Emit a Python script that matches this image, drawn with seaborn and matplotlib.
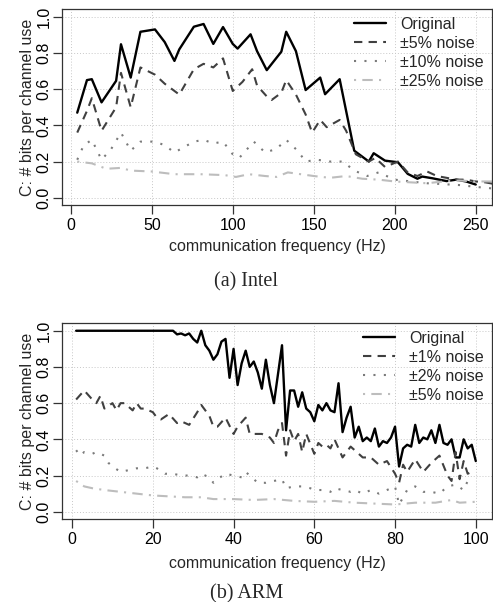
import numpy as np
import pandas as pd
import seaborn as sns
import matplotlib
matplotlib.use('Agg')
import matplotlib.pyplot as plt

# Intel
intel_x_orig = [4, 10, 13, 19, 28, 31, 37, 43, 52, 58, 64, 67, 76, 82, 88, 94, 100, 103, 111, 115,
                121, 130, 133, 139, 145, 154, 157, 166, 175, 184, 187, 194, 202, 208, 214, 217, 223,
                232, 238, 244, 250]
intel_y_orig = [0.47, 0.65, 0.655, 0.527, 0.646, 0.848, 0.664, 0.917, 0.93, 0.86, 0.756, 0.82, 0.945,
                0.96, 0.85, 0.943, 0.85, 0.824, 0.903, 0.81, 0.705, 0.807, 0.917, 0.81, 0.595, 0.664,
                0.572, 0.655, 0.26, 0.2, 0.246, 0.205, 0.196, 0.132, 0.105, 0.117, 0.108, 0.092, 0.1,
                0.09, 0.073]
intel_x_5 = [4, 10, 13, 19, 28, 31, 37, 43, 52, 58, 64, 67, 76, 82, 88, 94, 100, 106, 112, 115, 121,
             124, 130, 133, 139, 145, 149, 154, 158, 166, 170, 176, 184, 188, 194, 202, 208, 214, 220,
             226, 232, 238, 244, 250, 256, 262]
intel_y_5 = [0.36, 0.48, 0.55, 0.37, 0.5, 0.69, 0.5, 0.72, 0.68, 0.63, 0.59, 0.57, 0.71, 0.74, 0.72,
             0.77, 0.59, 0.64, 0.71, 0.62, 0.56, 0.54, 0.58, 0.65, 0.57, 0.46, 0.36, 0.43, 0.39, 0.43,
             0.37, 0.24, 0.2, 0.22, 0.17, 0.2, 0.14, 0.12, 0.145, 0.12, 0.11, 0.1, 0.1, 0.09, 0.085, 0.075]
intel_x_10 = [4, 8, 13, 19, 25, 31, 37, 43, 52, 58, 64, 70, 76, 82, 88, 94, 100, 104, 110, 113, 120,
              127, 133, 140, 145, 152, 160, 168, 175, 183, 190, 200, 210, 220, 230, 240, 250, 262]
intel_y_10 = [0.21, 0.29, 0.32, 0.21, 0.27, 0.36, 0.26, 0.31, 0.31, 0.29, 0.25, 0.28, 0.31, 0.32, 0.3,
              0.31, 0.24, 0.22, 0.28, 0.31, 0.25, 0.27, 0.32, 0.26, 0.2, 0.21, 0.2, 0.2, 0.15, 0.12,
              0.14, 0.1, 0.09, 0.08, 0.075, 0.07, 0.06, 0.05]
intel_x_25 = [4, 13, 22, 31, 37, 50, 64, 80, 95, 102, 110, 120, 127, 134, 142, 150, 160, 170, 180,
              190, 200, 210, 220, 230, 240, 250, 262]
intel_y_25 = [0.2, 0.19, 0.16, 0.165, 0.15, 0.145, 0.13, 0.13, 0.125, 0.115, 0.13, 0.12, 0.115, 0.14,
              0.13, 0.12, 0.11, 0.12, 0.105, 0.1, 0.09, 0.085, 0.08, 0.09, 0.095, 0.09, 0.09]

# ARM
arm_x_orig = list(range(1, 101))
arm_y_orig = [1.0] * 25 + [
    0.98, 0.985, 0.975, 0.985, 0.955, 0.935, 1.0, 0.92, 0.89, 0.84, 0.87, 0.94, 0.955, 0.74, 0.9,
    0.7, 0.82, 0.89, 0.8, 0.83, 0.77, 0.68, 0.84, 0.7, 0.6, 0.76, 0.92, 0.45, 0.67, 0.67, 0.58, 0.66,
    0.57, 0.55, 0.5, 0.59, 0.56, 0.6, 0.56, 0.55, 0.71, 0.44, 0.52, 0.58, 0.41, 0.47, 0.39, 0.41,
    0.39, 0.46, 0.36, 0.39, 0.38, 0.41, 0.47, 0.25, 0.35, 0.37, 0.36, 0.48, 0.38, 0.41, 0.4, 0.45,
    0.38, 0.48, 0.38, 0.37, 0.4, 0.3, 0.3, 0.4, 0.35, 0.37, 0.28]
arm_x_1 = [1, 3, 5, 6, 7, 8, 10, 11, 12, 13, 15, 16, 17, 18, 20, 21, 22, 24, 26, 27, 29, 31, 32, 34,
           35, 36, 38, 40, 41, 43, 44, 46, 47, 49, 50, 51, 52, 53, 54, 55, 56, 57, 58, 60, 61, 62, 63,
           64, 65, 67, 69, 70, 72, 74, 76, 78, 80, 81, 82, 83, 85, 87, 89, 91, 93, 94, 95, 96, 97, 98, 99]
arm_y_1 = [0.62, 0.67, 0.62, 0.6, 0.64, 0.57, 0.6, 0.56, 0.6, 0.6, 0.56, 0.6, 0.57, 0.57, 0.55, 0.52,
           0.51, 0.54, 0.49, 0.5, 0.48, 0.55, 0.59, 0.53, 0.47, 0.47, 0.52, 0.43, 0.47, 0.52, 0.43,
           0.43, 0.43, 0.41, 0.38, 0.45, 0.49, 0.31, 0.45, 0.39, 0.43, 0.33, 0.43, 0.32, 0.38, 0.36,
           0.37, 0.35, 0.4, 0.3, 0.36, 0.34, 0.3, 0.3, 0.26, 0.28, 0.21, 0.16, 0.26, 0.22, 0.29, 0.22,
           0.27, 0.31, 0.2, 0.17, 0.33, 0.18, 0.28, 0.21, 0.22]
arm_x_2 = [1, 2, 3, 5, 6, 7, 8, 9, 10, 12, 14, 16, 18, 20, 21, 23, 25, 27, 29, 31, 32, 34, 35, 36, 38,
           40, 42, 43, 45, 46, 48, 50, 52, 53, 55, 57, 59, 60, 62, 64, 65, 67, 69, 70, 72, 74, 76, 78,
           80, 81, 83, 85, 87, 89, 91, 93, 95, 97, 98, 99]
arm_y_2 = [0.34, 0.31, 0.33, 0.32, 0.33, 0.32, 0.31, 0.27, 0.25, 0.22, 0.23, 0.24, 0.24, 0.25, 0.24,
           0.21, 0.21, 0.2, 0.2, 0.19, 0.21, 0.19, 0.16, 0.18, 0.21, 0.2, 0.19, 0.22, 0.18, 0.16, 0.16,
           0.17, 0.18, 0.13, 0.14, 0.14, 0.13, 0.12, 0.12, 0.11, 0.13, 0.12, 0.11, 0.12, 0.1, 0.12,
           0.1, 0.12, 0.14, 0.04, 0.12, 0.14, 0.11, 0.11, 0.1, 0.14, 0.15, 0.12, 0.17, 0.15]
arm_x_5 = [1, 3, 5, 8, 12, 16, 20, 24, 28, 32, 35, 40, 45, 50, 55, 60, 65, 70, 75, 80, 85, 90, 94, 96, 100]
arm_y_5 = [0.17, 0.14, 0.13, 0.12, 0.11, 0.1, 0.09, 0.085, 0.08, 0.08, 0.07, 0.07, 0.065, 0.07, 0.06,
           0.055, 0.06, 0.05, 0.045, 0.04, 0.05, 0.05, 0.065, 0.05, 0.055]

intel_labels = ['Original', '±5% noise', '±10% noise', '±25% noise']
arm_labels = ['Original', '±1% noise', '±2% noise', '±5% noise']

colors = ['black', '#404040', '#7a7a7a', '#bdbdbd']
styles = ['-', (0, (4, 3)), (0, (1, 4)), (0, (1, 3, 5, 3))]
widths = [1.7, 1.5, 1.5, 1.5]

sns.set_style('ticks')
plt.rcParams['font.family'] = ['Liberation Sans', 'DejaVu Sans']
plt.rcParams['font.size'] = 11.5

fig = plt.figure(figsize=(4.93, 6.02), dpi=100)
ax1 = fig.add_axes([0.1258, 0.6595, 0.872, 0.3256])
ax2 = fig.add_axes([0.1258, 0.1379, 0.872, 0.3256])


def draw(ax, series, labels, xlim, xticks, xlab_y):
    for (x, y), lab, c, ls, lw in zip(series, labels, colors, styles, widths):
        sns.lineplot(x=x, y=y, ax=ax, color=c, linestyle=ls, linewidth=lw, label=lab, sort=False)
    ax.set_xlim(*xlim)
    ax.set_ylim(-0.04, 1.043)
    ax.set_xticks(xticks)
    ax.set_yticks([0.0, 0.2, 0.4, 0.6, 0.8, 1.0])
    ax.set_yticklabels(['0.0', '0.2', '0.4', '0.6', '0.8', '1.0'], rotation=90, va='center')
    ax.grid(True, color='#c8c8c8', linestyle=(0, (1, 2)), linewidth=0.7)
    for s in ax.spines.values():
        s.set_visible(True)
        s.set_color('#333333')
        s.set_linewidth(0.9)
    ax.tick_params(direction='out', length=6.5, width=0.9, colors='#333333', labelcolor='black')
    ax.tick_params(axis='x', pad=3)
    ax.tick_params(axis='y', pad=1)
    ax.set_xlabel('communication frequency (Hz)')
    ax.set_ylabel('C: # bits per channel use')
    ax.xaxis.set_label_coords(0.5, xlab_y)
    ax.yaxis.set_label_coords(-0.063, 0.5)
    ax.legend(loc='upper right', frameon=False, handlelength=2.0, handletextpad=0.9,
              labelspacing=0.25, borderpad=0.2, borderaxespad=0.3)


draw(ax1, [(intel_x_orig, intel_y_orig), (intel_x_5, intel_y_5), (intel_x_10, intel_y_10),
           (intel_x_25, intel_y_25)], intel_labels, (-5.4, 260), [0, 50, 100, 150, 200, 250], -0.175)
draw(ax2, [(arm_x_orig, arm_y_orig), (arm_x_1, arm_y_1), (arm_x_2, arm_y_2),
           (arm_x_5, arm_y_5)], arm_labels, (-2.5, 104), [0, 20, 40, 60, 80, 100], -0.19)

fig.text(0.5, 0.532, '(a) Intel', ha='center', va='center', fontsize=14.5, family='Liberation Serif')
fig.text(0.5, 0.0135, '(b) ARM', ha='center', va='center', fontsize=14.5, family='Liberation Serif')

fig.savefig('out.png', dpi=100)
